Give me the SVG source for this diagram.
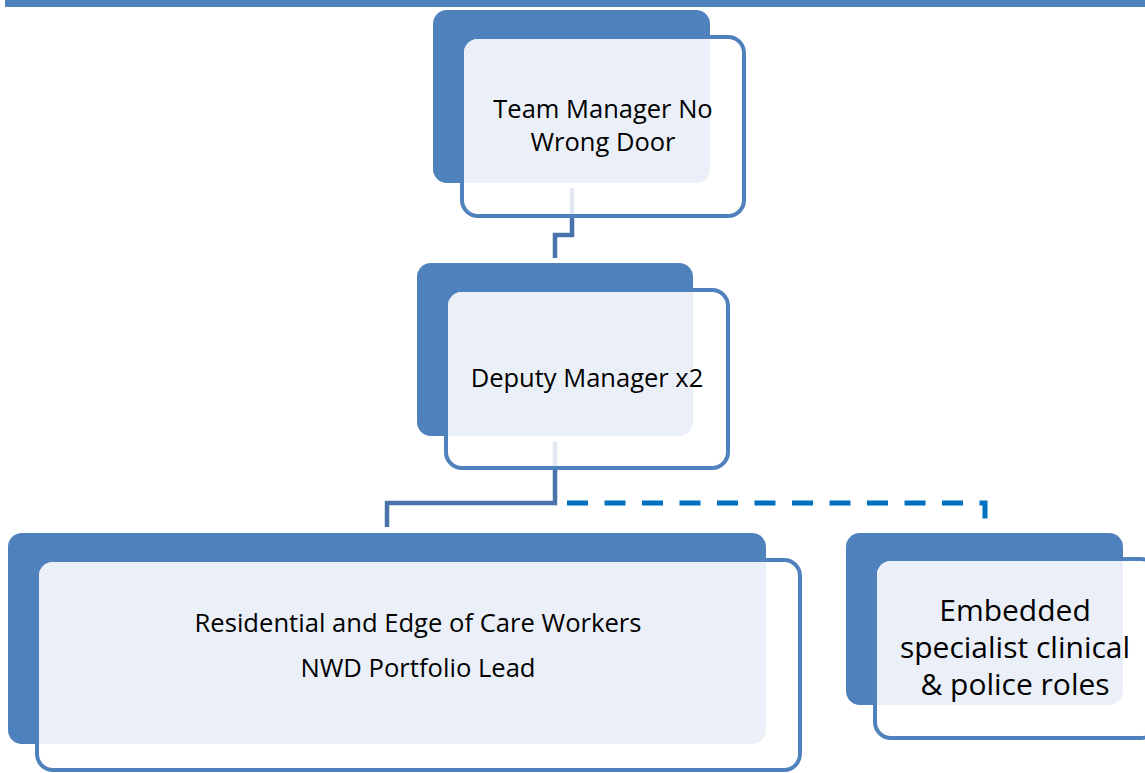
<svg xmlns="http://www.w3.org/2000/svg" width="1145" height="773" viewBox="0 0 1145 773">
<style>
.back{fill:#4F81BD}
.front{fill:#FFFFFF;stroke:#4F81BD;stroke-width:4}
.light{fill:#EBF0F8}
.t{font-family:"Open Sans","Liberation Sans",sans-serif;fill:#000000;text-anchor:middle}
.conn{fill:none;stroke:#4A73AA;stroke-width:4.5}
.faint{fill:none;stroke:#E2E8F1;stroke-width:4.5}
.dash{fill:none;stroke:#0070C0;stroke-width:5;stroke-dasharray:21 16.5}
</style>
<rect x="5" y="0" width="1140" height="7" fill="#4F81BD"/>
<g id="node-team-manager">
<rect class="back" x="433" y="10" width="277" height="173" rx="14"/>
<rect class="front" x="462" y="37" width="282" height="179" rx="16"/>
<path class="light" d="M478 39 H710 V169 A14 14 0 0 1 696 183 H464 V53 A14 14 0 0 1 478 39 Z"/>
<text class="t" font-size="25.5"><tspan x="603" y="118">Team Manager No</tspan><tspan x="603" y="151">Wrong Door</tspan></text>
</g>
<g id="node-deputy">
<rect class="back" x="417" y="263" width="276" height="173" rx="14"/>
<rect class="front" x="446" y="290" width="282" height="178" rx="16"/>
<path class="light" d="M462 292 H693 V422 A14 14 0 0 1 679 436 H448 V306 A14 14 0 0 1 462 292 Z"/>
<text class="t" font-size="25.5" x="587" y="387">Deputy Manager x2</text>
</g>
<g id="node-residential">
<rect class="back" x="8" y="533" width="758" height="211" rx="14"/>
<rect class="front" x="37" y="560" width="763" height="210" rx="16"/>
<path class="light" d="M53 562 H766 V730 A14 14 0 0 1 752 744 H39 V576 A14 14 0 0 1 53 562 Z"/>
<text class="t" font-size="25.6"><tspan x="418" y="632">Residential and Edge of Care Workers</tspan><tspan x="418" y="677">NWD Portfolio Lead</tspan></text>
</g>
<g id="node-embedded">
<rect class="back" x="846" y="533" width="277" height="172" rx="14"/>
<rect class="front" x="875" y="559" width="282" height="179" rx="16"/>
<path class="light" d="M891 561 H1123 V691 A14 14 0 0 1 1109 705 H877 V575 A14 14 0 0 1 891 561 Z"/>
<text class="t" font-size="30"><tspan x="1015" y="621">Embedded</tspan><tspan x="1015" y="658">specialist clinical</tspan><tspan x="1015" y="695">&amp; police roles</tspan></text>
</g>
<g id="connectors">
<path class="faint" d="M572 188 V214"/>
<path class="conn" d="M572 218 V235 H555 V258"/>
<path class="faint" d="M555 442 V466"/>
<path class="conn" d="M555 470 V503 H387 V527"/>
<path class="dash" d="M567 503 H985 V519"/>
</g>
</svg>
